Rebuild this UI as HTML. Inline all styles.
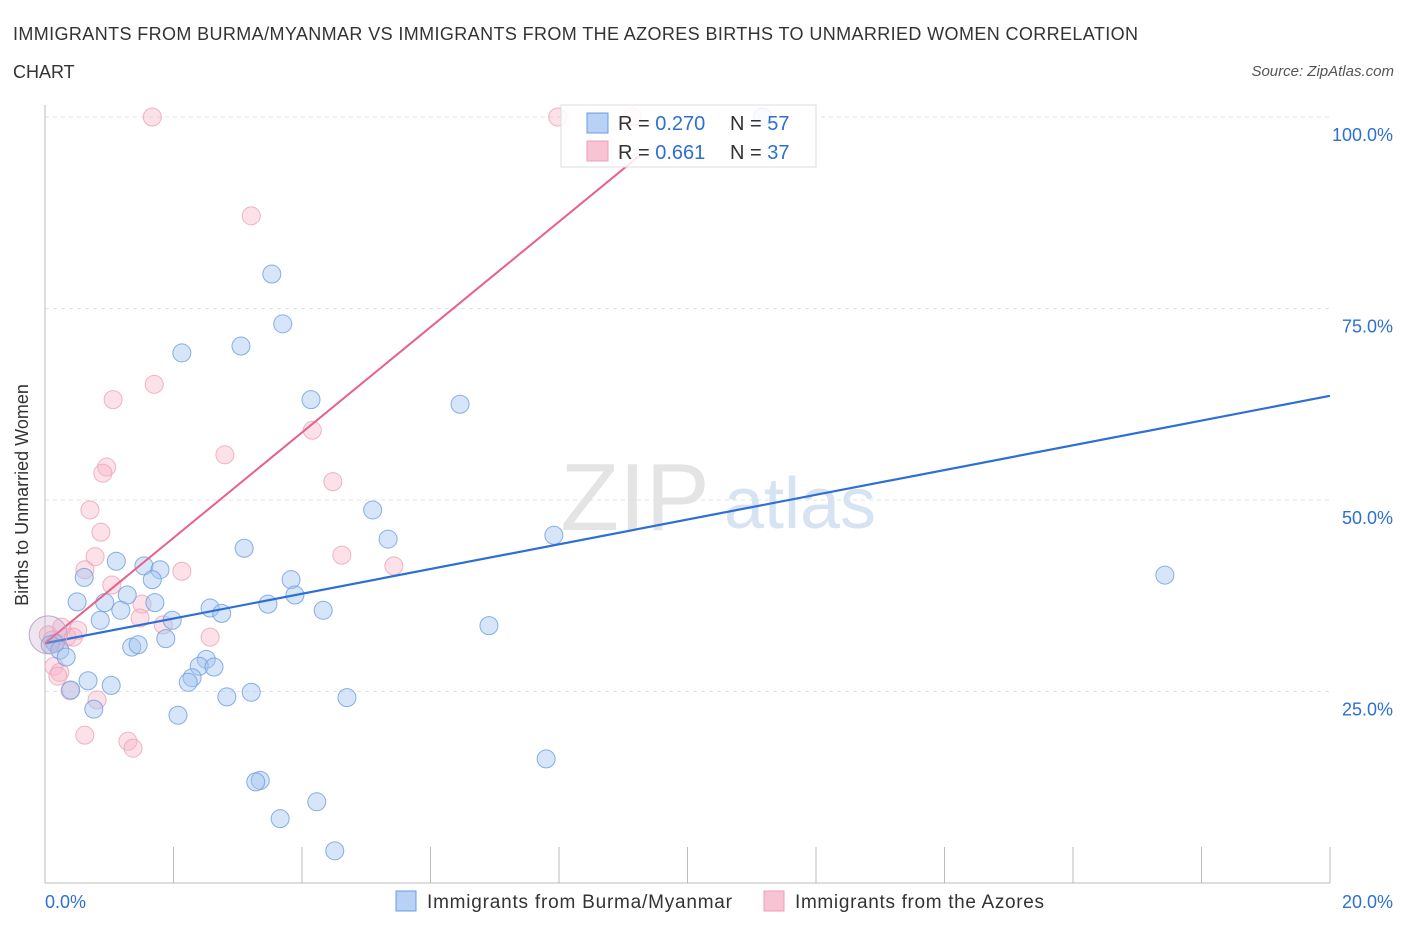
<!DOCTYPE html>
<html><head><meta charset="utf-8"><style>
body{margin:0;background:#fff;font-family:"Liberation Sans",sans-serif;}
svg text{font-family:"Liberation Sans",sans-serif;}
</style></head><body>
<svg id="chart" width="1406" height="930">
<text x="13" y="40" font-size="18" fill="#333" textLength="1125">IMMIGRANTS FROM BURMA/MYANMAR VS IMMIGRANTS FROM THE AZORES BIRTHS TO UNMARRIED WOMEN CORRELATION</text>
<text x="13" y="78" font-size="18" fill="#333">CHART</text>
<text x="1394" y="76" font-size="15" fill="#555" font-style="italic" text-anchor="end">Source: ZipAtlas.com</text>
<text x="635" y="530" font-size="96" fill="#e4e4e4" font-family="Liberation Serif" text-anchor="middle">ZIP</text>
<text x="800" y="528" font-size="72" fill="#d5e3f3" text-anchor="middle">atlas</text>
<g id="grid"></g>
<g id="axes"></g>
<g id="marks"></g>
<g>
<rect x="561" y="105" width="255" height="62" fill="#fff" fill-opacity="0.85" stroke="#ddd"/>
<rect x="587" y="113" width="21" height="20" fill="#b8d2f5" stroke="#6a9be0"/>
<rect x="587" y="141" width="21" height="20" fill="#f8c4d4" stroke="#e8a0b5"/>
<text x="618" y="130" font-size="20" fill="#333">R = <tspan fill="#2d6fd4">0.270</tspan></text>
<text x="730" y="130" font-size="20" fill="#333">N = <tspan fill="#2d6fd4">57</tspan></text>
<text x="618" y="159" font-size="20" fill="#333">R = <tspan fill="#2d6fd4"> 0.661</tspan></text>
<text x="730" y="159" font-size="20" fill="#333">N = <tspan fill="#2d6fd4">37</tspan></text>
</g>
<g>
<rect x="396" y="891" width="20" height="20" fill="#b8d2f5" stroke="#6a9be0"/>
<text x="427" y="908" font-size="19" fill="#333" textLength="305">Immigrants from Burma/Myanmar</text>
<rect x="764" y="891" width="20" height="20" fill="#f8c4d4" stroke="#e8a0b5"/>
<text x="795" y="908" font-size="19" fill="#333" textLength="249">Immigrants from the Azores</text>
</g>
<text x="28" y="495" font-size="18" fill="#333" text-anchor="middle" transform="rotate(-90 28 495)">Births to Unmarried Women</text>
</svg>
<script>
const blueX=[3.53,3.70,2.13,3.05,4.14,6.46,5.10,5.34,7.92,17.43,3.10,1.11,1.54,1.79,1.67,0.61,3.83,3.89,0.50,0.93,1.28,1.71,1.18,2.57,2.75,3.47,4.33,0.86,1.98,6.91,1.88,1.35,1.45,0.16,0.08,0.23,0.33,2.51,2.40,2.63,2.29,2.23,0.67,1.03,0.40,3.21,2.83,4.70,0.76,2.07,7.80,3.35,3.28,4.23,3.66,4.51,11.17];
const blueY=[79.5,73.0,69.2,70.1,63.1,62.5,48.7,44.9,45.4,40.2,43.7,42.0,41.4,40.9,39.6,39.9,39.6,37.6,36.7,36.6,37.6,36.6,35.6,35.9,35.2,36.4,35.6,34.3,34.3,33.6,31.9,30.8,31.1,31.3,31.1,30.4,29.5,29.2,28.3,28.2,26.8,26.2,26.4,25.8,25.2,24.9,24.3,24.2,22.7,21.9,16.2,13.4,13.2,10.6,8.4,4.2,100.0];
const pinkX=[1.67,7.98,9.14,3.21,1.70,1.06,4.16,2.80,4.48,0.96,0.90,0.70,0.87,0.78,4.62,5.43,0.62,2.13,1.04,1.51,1.48,1.84,0.51,2.57,0.34,0.44,0.14,0.23,0.20,0.39,0.81,0.62,1.29,1.37,0.05,0.11,0.26];
const pinkY=[100,100,100,87.1,65.1,63.1,59.1,55.9,52.4,54.3,53.5,48.7,45.8,42.6,42.8,41.4,40.9,40.7,38.9,36.4,34.6,33.7,33.0,32.1,32.1,32.1,28.3,27.5,27.0,25.1,23.9,19.3,18.5,17.6,32.4,31.7,33.4];
const blueLine=[31.3,63.6];
const pinkLine=[31.3,95.0,9.26];
const yTicks=[25,50,75,100];
const xTickLabels=["0.0%","20.0%"];
const NS="http://www.w3.org/2000/svg";
const X=v=>45+v/20*1285, Y=v=>883-v/100*766;
function mk(t,a,p){const e=document.createElementNS(NS,t);for(const k in a)e.setAttribute(k,a[k]);p.appendChild(e);return e;}
const grid=document.getElementById('grid'),axes=document.getElementById('axes'),marks=document.getElementById('marks');
yTicks.forEach(t=>{
 const l=mk('line',{x1:45,x2:1330,y1:Y(t),y2:Y(t),stroke:'#e2e2e2','stroke-dasharray':'4 4'},grid);
 
 
 const tx=mk('text',{x:1393,y:Y(t)+24,'font-size':18,fill:'#2d6fd4','text-anchor':'end'},axes);
 tx.textContent=t.toFixed(1)+'%';
 
 
});
const ya=mk('line',{x1:45,x2:45,y1:105,y2:883,stroke:'#bbb'},axes);


const xa=mk('line',{x1:45,x2:1330,y1:883,y2:883,stroke:'#bbb'},axes);


for(let i=0;i<=10;i++){
 const t=mk('line',{x1:X(i*2),x2:X(i*2),y1:847,y2:883,stroke:'#bbb'},axes);
 
 
}
[[0,'start',45],[1,'end',1393]].forEach(([i,a,x])=>{
 const t=mk('text',{x:x,y:908,'font-size':18,fill:'#2d6fd4','text-anchor':a},axes);
 t.textContent=xTickLabels[i];
 
 
});
function dots(xs,ys,fill,stroke,name){
 xs.forEach((x,i)=>{
  const c=mk('circle',{cx:X(x),cy:Y(ys[i]),r:9,fill:fill,stroke:stroke,'stroke-width':1,'stroke-opacity':0.8},marks);
  
  
 });
}
dots(pinkX,pinkY,'rgba(248,180,200,0.4)','#eaa3b8','azores-point');
dots(blueX,blueY,'rgba(165,198,240,0.45)','#6b9ce0','burma-point');
const bl=mk('line',{x1:X(0),y1:Y(blueLine[0]),x2:X(20),y2:Y(blueLine[1]),stroke:'#2d6fd4','stroke-width':2.2},marks);


const pl=mk('line',{x1:X(0),y1:Y(pinkLine[0]),x2:X(pinkLine[2]),y2:Y(pinkLine[1]),stroke:'#e8608a','stroke-width':2},marks);


const big=mk('circle',{cx:X(0.05),cy:Y(32.4),r:19,fill:'rgba(200,170,200,0.3)',stroke:'#c0a8cc'},marks);


</script>
</body></html>
